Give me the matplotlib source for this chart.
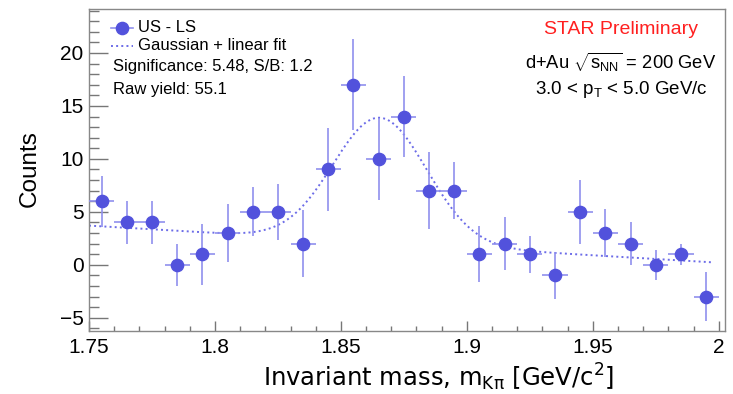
import numpy as np
import matplotlib
matplotlib.use("Agg")
import matplotlib.pyplot as plt
from matplotlib.lines import Line2D
from matplotlib.ticker import MultipleLocator

'''
Invariant mass spectrum (US - LS) with a Gaussian + linear fit.
'''

# bin centres and counts
mass = [1.755, 1.765, 1.775, 1.785, 1.795, 1.805, 1.815, 1.825, 1.835, 1.845,
        1.855, 1.865, 1.875, 1.885, 1.895, 1.905, 1.915, 1.925, 1.935, 1.945,
        1.955, 1.965, 1.975, 1.985, 1.995]
counts = [6, 4, 4, 0, 1, 3, 5, 5, 2, 9,
          17, 10, 14, 7, 7, 1, 2, 1, -1, 5,
          3, 2, 0, 1, -3]
count_err = [2.4, 2.0, 2.0, 2.0, 2.9, 2.7, 2.3, 2.65, 3.15, 3.9,
             4.3, 3.9, 3.8, 3.65, 2.7, 2.65, 2.5, 1.75, 2.2, 3.0,
             2.25, 2.0, 1.4, 1.0, 2.3]
bin_half_width = 0.005

# fit parameters (Gaussian + linear)
fit_amp = 11.8
fit_mean = 1.8655
fit_sigma = 0.0186
fit_p0 = 3.7      # linear term value at 1.75
fit_p1 = -14.0    # slope per GeV/c^2
fit_range = (1.75, 1.9975)

plt.rcParams['font.family'] = ['Liberation Sans', 'DejaVu Sans']
plt.rcParams['mathtext.fontset'] = 'custom'
plt.rcParams['mathtext.rm'] = 'Liberation Sans'
plt.rcParams['mathtext.it'] = 'Liberation Sans'

W, H = 733, 394


def fx(px):
    return px / W


def fy(py):
    return 1 - py / H


def main():
    marker_col = '#5252dc'
    bar_col = '#9090ee'
    fit_col = '#6c6ce8'

    fig = plt.figure(figsize=(W / 100, H / 100), dpi=100)
    ax = fig.add_axes([fx(89), fy(330.7), fx(725) - fx(89), fy(9) - fy(330.7)])

    x_fit = np.linspace(fit_range[0], fit_range[1], 400)
    y_fit = (fit_p0 + fit_p1 * (x_fit - 1.75)
             + fit_amp * np.exp(-0.5 * ((x_fit - fit_mean) / fit_sigma) ** 2))
    ax.plot(x_fit, y_fit, ':', color=fit_col, linewidth=1.4, zorder=2)

    ax.errorbar(mass, counts, yerr=count_err, xerr=bin_half_width, fmt='none',
                ecolor=bar_col, elinewidth=1.2, capsize=0, zorder=3)
    ax.plot(mass, counts, 'o', color=marker_col, markersize=8.8, zorder=4)

    ax.set_xlim(1.75, 2.0025)
    ax.set_ylim(-6.22, 24.15)
    ax.xaxis.set_major_locator(MultipleLocator(0.05))
    ax.xaxis.set_minor_locator(MultipleLocator(0.01))
    ax.yaxis.set_major_locator(MultipleLocator(5))
    ax.yaxis.set_minor_locator(MultipleLocator(1))
    ax.set_xticks([1.75, 1.8, 1.85, 1.9, 1.95, 2.0])
    ax.set_xticklabels(['1.75', '1.8', '1.85', '1.9', '1.95', '2'])
    ax.set_yticks([-5, 0, 5, 10, 15, 20])
    ax.set_yticklabels(['\u22125', '0', '5', '10', '15', '20'])

    ax.tick_params(axis='both', which='both', direction='in', colors='#777777',
                   labelcolor='black', labelsize=15, width=1)
    ax.tick_params(axis='y', which='major', length=13.5, pad=4)
    ax.tick_params(axis='y', which='minor', length=7)
    ax.tick_params(axis='x', which='major', length=7, pad=5)
    ax.tick_params(axis='x', which='minor', length=3.6)
    for sp in ax.spines.values():
        sp.set_color('#888888')
        sp.set_linewidth(1)

    # axis titles
    fig.text(fx(438.5), fy(386.5), r'Invariant mass, m$_{\mathrm{K\pi}}$ [GeV/c$^{2}$]',
             ha='center', va='baseline', fontsize=17.5,
             family=['DejaVu Sans'], math_fontfamily='dejavusans')
    fig.text(fx(29.5), fy(169), 'Counts', rotation=90, ha='center', va='center',
             fontsize=17.5)

    # legend, drawn by hand
    fig.add_artist(Line2D([fx(111), fx(133)], [fy(27.5), fy(27.5)],
                          color=bar_col, linewidth=1.2))
    fig.add_artist(Line2D([fx(122)], [fy(27.5)], marker='o', color=marker_col,
                          markersize=8.8, linestyle='none'))
    fig.text(fx(138), fy(27), 'US - LS', ha='left', va='center', fontsize=12)
    fig.add_artist(Line2D([fx(111), fx(133)], [fy(46), fy(46)], linestyle=':',
                          color=fit_col, linewidth=1.4))
    fig.text(fx(138), fy(46), 'Gaussian + linear fit', ha='left', va='center',
             fontsize=12)
    fig.text(fx(113), fy(67), 'Significance: 5.48, S/B: 1.2', ha='left',
             va='center', fontsize=12)
    fig.text(fx(113), fy(89.5), 'Raw yield: 55.1', ha='left', va='center',
             fontsize=12)

    # labels on the right
    fig.text(fx(698), fy(29), 'STAR Preliminary', color='#ff2020', ha='right',
             va='center', fontsize=14)
    fig.text(fx(716.5), fy(62), r'd+Au $\sqrt{\mathrm{s}_{\mathrm{NN}}}$ = 200 GeV',
             ha='right', va='center', fontsize=13.2)
    fig.text(fx(708), fy(90), r'3.0 < p$_{\mathrm{T}}$ < 5.0 GeV/c',
             ha='right', va='center', fontsize=13.5)

    fig.savefig('out.png', dpi=100)


if __name__ == "__main__":
    main()
